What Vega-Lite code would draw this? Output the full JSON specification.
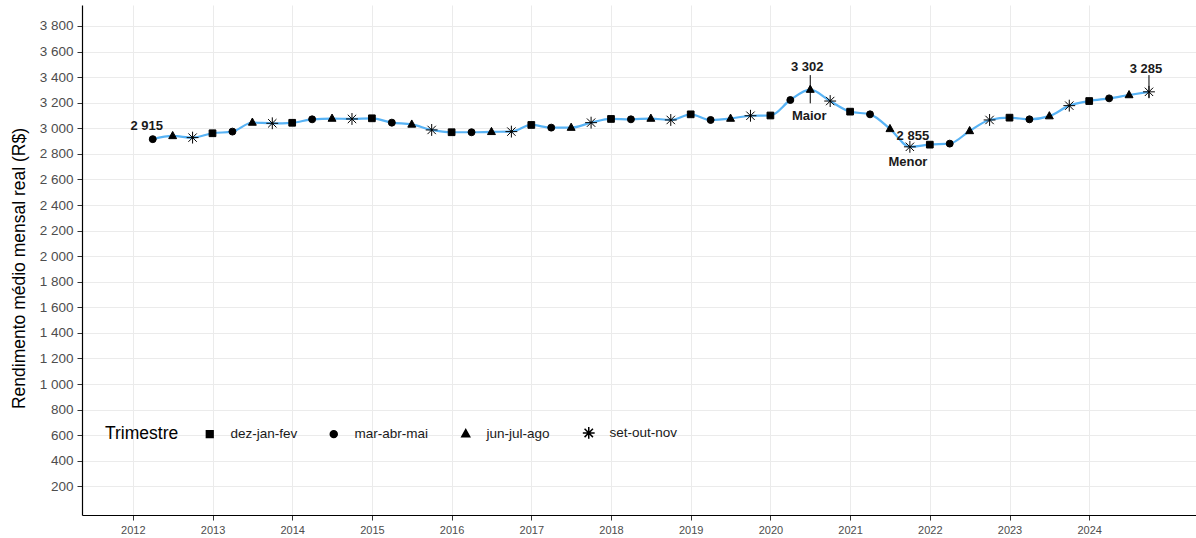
{
  "$schema": "https://vega.github.io/schema/vega-lite/v6.json",
  "autosize": "none",
  "width": 1114,
  "height": 510,
  "padding": {"left": 82, "top": 5, "right": 0, "bottom": 23},
  "background": "white",
  "config": {
    "view": {"stroke": null},
    "font": "Liberation Sans",
    "axis": {
      "domainColor": "#000000",
      "domainWidth": 1.2,
      "tickColor": "#333333",
      "tickSize": 5,
      "gridColor": "#ebebeb",
      "gridWidth": 1,
      "labelColor": "#4d4d4d",
      "titleColor": "#000000",
      "titleFontWeight": "normal",
      "labelOverlap": false
    }
  },
  "datasets": {
    "serie": [
      {"t": 2012.25, "trimestre": "mar-abr-mai", "valor": 2915},
      {"t": 2012.5, "trimestre": "jun-jul-ago", "valor": 2940},
      {"t": 2012.75, "trimestre": "set-out-nov", "valor": 2927},
      {"t": 2013.0, "trimestre": "dez-jan-fev", "valor": 2961},
      {"t": 2013.25, "trimestre": "mar-abr-mai", "valor": 2974},
      {"t": 2013.5, "trimestre": "jun-jul-ago", "valor": 3045},
      {"t": 2013.75, "trimestre": "set-out-nov", "valor": 3039},
      {"t": 2014.0, "trimestre": "dez-jan-fev", "valor": 3043},
      {"t": 2014.25, "trimestre": "mar-abr-mai", "valor": 3070},
      {"t": 2014.5, "trimestre": "jun-jul-ago", "valor": 3076},
      {"t": 2014.75, "trimestre": "set-out-nov", "valor": 3073},
      {"t": 2015.0, "trimestre": "dez-jan-fev", "valor": 3078},
      {"t": 2015.25, "trimestre": "mar-abr-mai", "valor": 3044},
      {"t": 2015.5, "trimestre": "jun-jul-ago", "valor": 3030},
      {"t": 2015.75, "trimestre": "set-out-nov", "valor": 2987},
      {"t": 2016.0, "trimestre": "dez-jan-fev", "valor": 2969},
      {"t": 2016.25, "trimestre": "mar-abr-mai", "valor": 2969},
      {"t": 2016.5, "trimestre": "jun-jul-ago", "valor": 2972},
      {"t": 2016.75, "trimestre": "set-out-nov", "valor": 2974},
      {"t": 2017.0, "trimestre": "dez-jan-fev", "valor": 3026},
      {"t": 2017.25, "trimestre": "mar-abr-mai", "valor": 3005},
      {"t": 2017.5, "trimestre": "jun-jul-ago", "valor": 3005},
      {"t": 2017.75, "trimestre": "set-out-nov", "valor": 3044},
      {"t": 2018.0, "trimestre": "dez-jan-fev", "valor": 3073},
      {"t": 2018.25, "trimestre": "mar-abr-mai", "valor": 3070},
      {"t": 2018.5, "trimestre": "jun-jul-ago", "valor": 3076},
      {"t": 2018.75, "trimestre": "set-out-nov", "valor": 3065},
      {"t": 2019.0, "trimestre": "dez-jan-fev", "valor": 3109},
      {"t": 2019.25, "trimestre": "mar-abr-mai", "valor": 3065},
      {"t": 2019.5, "trimestre": "jun-jul-ago", "valor": 3076},
      {"t": 2019.75, "trimestre": "set-out-nov", "valor": 3098},
      {"t": 2020.0, "trimestre": "dez-jan-fev", "valor": 3100},
      {"t": 2020.25, "trimestre": "mar-abr-mai", "valor": 3221},
      {"t": 2020.5, "trimestre": "jun-jul-ago", "valor": 3302},
      {"t": 2020.75, "trimestre": "set-out-nov", "valor": 3213},
      {"t": 2021.0, "trimestre": "dez-jan-fev", "valor": 3130},
      {"t": 2021.25, "trimestre": "mar-abr-mai", "valor": 3109},
      {"t": 2021.5, "trimestre": "jun-jul-ago", "valor": 2995},
      {"t": 2021.75, "trimestre": "set-out-nov", "valor": 2855},
      {"t": 2022.0, "trimestre": "dez-jan-fev", "valor": 2872},
      {"t": 2022.25, "trimestre": "mar-abr-mai", "valor": 2880},
      {"t": 2022.5, "trimestre": "jun-jul-ago", "valor": 2979},
      {"t": 2022.75, "trimestre": "set-out-nov", "valor": 3065},
      {"t": 2023.0, "trimestre": "dez-jan-fev", "valor": 3083},
      {"t": 2023.25, "trimestre": "mar-abr-mai", "valor": 3070},
      {"t": 2023.5, "trimestre": "jun-jul-ago", "valor": 3095},
      {"t": 2023.75, "trimestre": "set-out-nov", "valor": 3177},
      {"t": 2024.0, "trimestre": "dez-jan-fev", "valor": 3213},
      {"t": 2024.25, "trimestre": "mar-abr-mai", "valor": 3234},
      {"t": 2024.5, "trimestre": "jun-jul-ago", "valor": 3260},
      {"t": 2024.75, "trimestre": "set-out-nov", "valor": 3285}
    ],
    "rotulos": [
      {"t": 2012.25, "valor": 2915, "texto": "2 915", "tipo": "inicio"},
      {"t": 2020.5, "valor": 3302, "texto": "3 302", "tipo": "acima"},
      {"t": 2024.75, "valor": 3285, "texto": "3 285", "tipo": "acima"},
      {"t": 2021.75, "valor": 2855, "texto": "2 855", "tipo": "direita"},
      {"t": 2020.5, "valor": 3302, "texto": "Maior", "tipo": "abaixo_maior"},
      {"t": 2021.75, "valor": 2855, "texto": "Menor", "tipo": "abaixo_menor"}
    ],
    "segmentos": [
      {"t": 2020.5, "de": 3416, "ate": 3302},
      {"t": 2020.5, "de": 3286, "ate": 3195},
      {"t": 2024.75, "de": 3416, "ate": 3235}
    ]
  },
  "layer": [
    {
      "data": {"name": "serie"},
      "mark": {"type": "line", "interpolate": "monotone", "color": "#58B3F5", "strokeWidth": 2.2},
      "encoding": {
        "x": {
          "field": "t", "type": "quantitative",
          "scale": {"domain": [2011.3625, 2025.34], "nice": false, "zero": false},
          "axis": {
            "values": [2012, 2013, 2014, 2015, 2016, 2017, 2018, 2019, 2020, 2021, 2022, 2023, 2024],
            "tickCount": 30,
            "format": "d", "title": null, "labelFontSize": 11, "labelPadding": 4
          }
        },
        "y": {
          "field": "valor", "type": "quantitative",
          "scale": {"domain": [-24, 3964], "nice": false, "zero": false},
          "axis": {
            "values": [200, 400, 600, 800, 1000, 1200, 1400, 1600, 1800, 2000, 2200, 2400, 2600, 2800, 3000, 3200, 3400, 3600, 3800],
            "tickCount": 40,
            "labelExpr": "replace(format(datum.value, ','), ',', ' ')",
            "labelOverlap": false,
            "title": "Rendimento médio mensal real (R$)",
            "titleFontSize": 17.5, "titleX": -54, "titleY": 263,
            "labelFontSize": 13.5, "labelPadding": 4
          }
        }
      }
    },
    {
      "data": {"name": "segmentos"},
      "mark": {"type": "rule", "color": "#000000", "strokeWidth": 1},
      "encoding": {
        "x": {"field": "t", "type": "quantitative"},
        "y": {"field": "de", "type": "quantitative"},
        "y2": {"field": "ate"}
      }
    },
    {
      "data": {"name": "serie"},
      "mark": {"type": "point", "filled": true, "color": "#000000", "stroke": "#000000", "strokeWidth": 1, "opacity": 1},
      "encoding": {
        "x": {"field": "t", "type": "quantitative"},
        "y": {"field": "valor", "type": "quantitative"},
        "shape": {
          "field": "trimestre", "type": "nominal",
          "scale": {
            "domain": ["dez-jan-fev", "mar-abr-mai", "jun-jul-ago", "set-out-nov"],
            "range": ["square", "circle", "M0,-1.25L1.1,0.75L-1.1,0.75Z", "M-1.6,0L1.6,0M0,-1.6L0,1.6M-1.13,-1.13L1.13,1.13M-1.13,1.13L1.13,-1.13"]
          },
          "legend": {
            "title": "Trimestre",
            "orient": "none", "legendX": 23, "legendY": 421,
            "direction": "horizontal", "titleOrient": "left",
            "titleFontSize": 17.5, "titleFontWeight": "normal", "titleColor": "#000000",
            "titlePadding": 24, "labelFontSize": 13.5, "labelColor": "#1a1a1a",
            "labelOffset": 14, "columnPadding": 29,
            "encode": {"symbols": {"update": {"fill": {"value": "#000000"}, "stroke": {"value": "#000000"}, "strokeWidth": {"value": 1}, "opacity": {"value": 1}}}}
          }
        },
        "size": {
          "field": "trimestre", "type": "nominal",
          "scale": {
            "domain": ["dez-jan-fev", "mar-abr-mai", "jun-jul-ago", "set-out-nov"],
            "range": [45, 55, 60, 60]
          },
          "legend": {
            "title": "Trimestre",
            "orient": "none", "legendX": 23, "legendY": 421,
            "direction": "horizontal", "titleOrient": "left",
            "titleFontSize": 17.5, "titleFontWeight": "normal", "titleColor": "#000000",
            "titlePadding": 24, "labelFontSize": 13.5, "labelColor": "#1a1a1a",
            "labelOffset": 14, "columnPadding": 29,
            "encode": {"symbols": {"update": {"fill": {"value": "#000000"}, "stroke": {"value": "#000000"}, "strokeWidth": {"value": 1}, "opacity": {"value": 1}}}}
          }
        }
      }
    },
    {
      "data": {"name": "rotulos"},
      "transform": [{"filter": "datum.tipo == 'inicio'"}],
      "mark": {"type": "text", "fontWeight": "bold", "fontSize": 13, "color": "#1a1a1a", "dx": -6, "dy": -13},
      "encoding": {
        "x": {"field": "t", "type": "quantitative"},
        "y": {"field": "valor", "type": "quantitative"},
        "text": {"field": "texto"}
      }
    },
    {
      "data": {"name": "rotulos"},
      "transform": [{"filter": "datum.tipo == 'acima'"}],
      "mark": {"type": "text", "fontWeight": "bold", "fontSize": 13, "color": "#1a1a1a", "dx": -3, "dy": -23},
      "encoding": {
        "x": {"field": "t", "type": "quantitative"},
        "y": {"field": "valor", "type": "quantitative"},
        "text": {"field": "texto"}
      }
    },
    {
      "data": {"name": "rotulos"},
      "transform": [{"filter": "datum.tipo == 'direita'"}],
      "mark": {"type": "text", "fontWeight": "bold", "fontSize": 13, "color": "#1a1a1a", "dx": 3, "dy": -11},
      "encoding": {
        "x": {"field": "t", "type": "quantitative"},
        "y": {"field": "valor", "type": "quantitative"},
        "text": {"field": "texto"}
      }
    },
    {
      "data": {"name": "rotulos"},
      "transform": [{"filter": "datum.tipo == 'abaixo_maior'"}],
      "mark": {"type": "text", "fontWeight": "bold", "fontSize": 13, "color": "#1a1a1a", "dx": -1, "dy": 26},
      "encoding": {
        "x": {"field": "t", "type": "quantitative"},
        "y": {"field": "valor", "type": "quantitative"},
        "text": {"field": "texto"}
      }
    },
    {
      "data": {"name": "rotulos"},
      "transform": [{"filter": "datum.tipo == 'abaixo_menor'"}],
      "mark": {"type": "text", "fontWeight": "bold", "fontSize": 13, "color": "#1a1a1a", "dx": -2, "dy": 15},
      "encoding": {
        "x": {"field": "t", "type": "quantitative"},
        "y": {"field": "valor", "type": "quantitative"},
        "text": {"field": "texto"}
      }
    }
  ]
}
